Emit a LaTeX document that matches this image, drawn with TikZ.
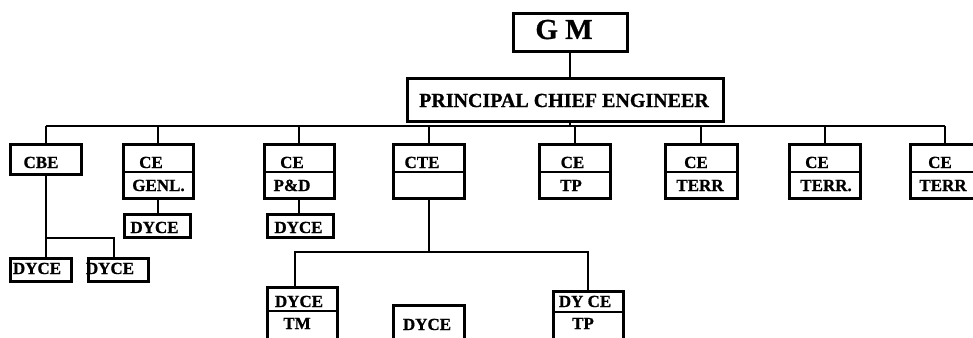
\documentclass[tikz,border=0pt]{standalone}
\usepackage{fontspec}
\setmainfont{Liberation Serif}[BoldFeatures={FakeBold=0.8}]
\begin{document}
\begin{tikzpicture}[x=1pt,y=-1pt,
  box/.style={draw, line width=2.6pt, inner sep=0pt, anchor=north west},
  link/.style={line width=2.2pt},
  divline/.style={line width=2.3pt},
  lbl/.style={font=\bfseries\fontsize{17}{17}\selectfont, anchor=base, inner sep=0pt},
  biglbl/.style={font=\bfseries\fontsize{20}{20}\selectfont, anchor=base, inner sep=0pt},
  gmlbl/.style={font=\bfseries\fontsize{29}{29}\selectfont, anchor=base, inner sep=0pt}]
\useasboundingbox (0,0) rectangle (973,337);
\clip (0,0) rectangle (973,337);
% boxes
\node[box, minimum width=114pt, minimum height=38pt] (gm) at (512,12) {};
\node[box, minimum width=316pt, minimum height=43pt] (pce) at (406,77) {};
\node[box, minimum width=71pt, minimum height=30pt] (cbe) at (9,143) {};
\node[box, minimum width=70pt, minimum height=54pt] (genl) at (122,143) {};
\node[box, minimum width=70pt, minimum height=54pt] (pd) at (263,143) {};
\node[box, minimum width=71pt, minimum height=54pt] (cte) at (392,143) {};
\node[box, minimum width=71pt, minimum height=54pt] (tp) at (538,143) {};
\node[box, minimum width=72pt, minimum height=54pt] (terra) at (664,143) {};
\node[box, minimum width=71pt, minimum height=54pt] (terrb) at (788,143) {};
\node[box, minimum width=70pt, minimum height=54pt] (terrc) at (909,143) {};
\node[box, minimum width=66pt, minimum height=23pt] (dgenl) at (123,213) {};
\node[box, minimum width=66pt, minimum height=23pt] (dpd) at (266,213) {};
\node[box, minimum width=61pt, minimum height=23pt] (dcbea) at (9,257) {};
\node[box, minimum width=60pt, minimum height=23pt] (dcbeb) at (87,257) {};
\node[box, minimum width=70pt, minimum height=62pt] (dtm) at (266,286) {};
\node[box, minimum width=71pt, minimum height=44pt] (dmid) at (392,304) {};
\node[box, minimum width=70pt, minimum height=58pt] (dtp) at (552,290) {};
% dividers
\foreach \b in {genl,pd,cte,tp,terra,terrb,terrc}
  \draw[divline] (\b.west |- 0,172) -- (\b.east |- 0,172);
\draw[divline] (dtm.west |- 0,311) -- (dtm.east |- 0,311);
\draw[divline] (dtp.west |- 0,312) -- (dtp.east |- 0,312);
% connectors
\coordinate (bus) at (0,126);
\coordinate (cbej) at (0,238);
\coordinate (ctej) at (0,252);
\draw[link] (gm.south) -- (gm.south |- pce.north);
\draw[link] (gm.south |- pce.south) -- (gm.south |- bus);
\draw[link] (cbe.north |- bus) -- (terrc.north |- bus);
\foreach \b in {cbe,genl,pd,cte,tp,terra,terrb,terrc}
  \draw[link] (\b.north) -- (\b.north |- bus);
\draw[link] (cbe.south) -- (cbe.south |- dcbea.north);
\draw[link] (cbe.south |- cbej) -| ([xshift=-4pt]dcbeb.north);
\draw[link] (genl.south) -- (genl.south |- dgenl.north);
\draw[link] (pd.south) -- (pd.south |- dpd.north);
\draw[link] (cte.south) -- (cte.south |- ctej);
\draw[link] ([xshift=-7pt]dtm.north) |- (dtp.north |- ctej) -- (dtp.north);
% labels
\node[gmlbl] (tgm) at (564,39) {G M};
\node[biglbl] (tpce) at (564,107) {PRINCIPAL CHIEF ENGINEER};
\node[lbl] (tcbe) at (41,168) {CBE};
\node[lbl] (tgenla) at (151,168) {CE};
\node[lbl] (tgenlb) at (158.5,191) {GENL.};
\node[lbl] (tpda) at (292,168) {CE};
\node[lbl] (tpdb) at (292,191) {P\&D};
\node[lbl] (tcte) at (422,168) {CTE};
\node[lbl] (ttpa) at (572.5,168) {CE};
\node[lbl] (ttpb) at (571,191) {TP};
\node[lbl] (tterraa) at (696,168) {CE};
\node[lbl] (tterrab) at (700,191) {TERR};
\node[lbl] (tterrba) at (817,168) {CE};
\node[lbl] (tterrbb) at (826,191) {TERR.};
\node[lbl] (tterrca) at (940,168) {CE};
\node[lbl] (tterrcb) at (943,191) {TERR};
\node[lbl] (tdgenl) at (154.5,233) {DYCE};
\node[lbl] (tdpd) at (298.5,233) {DYCE};
\node[lbl] (tdcbea) at (37,274) {DYCE};
\node[lbl] (tdcbeb) at (110,274) {DYCE};
\node[lbl] (tdtma) at (299,307) {DYCE};
\node[lbl] (tdtmb) at (297,329) {TM};
\node[lbl] (tdmid) at (427,330) {DYCE};
\node[lbl] (tdtpa) at (585,307) {DY CE};
\node[lbl] (tdtpb) at (583,329) {TP};
\end{tikzpicture}
\end{document}
